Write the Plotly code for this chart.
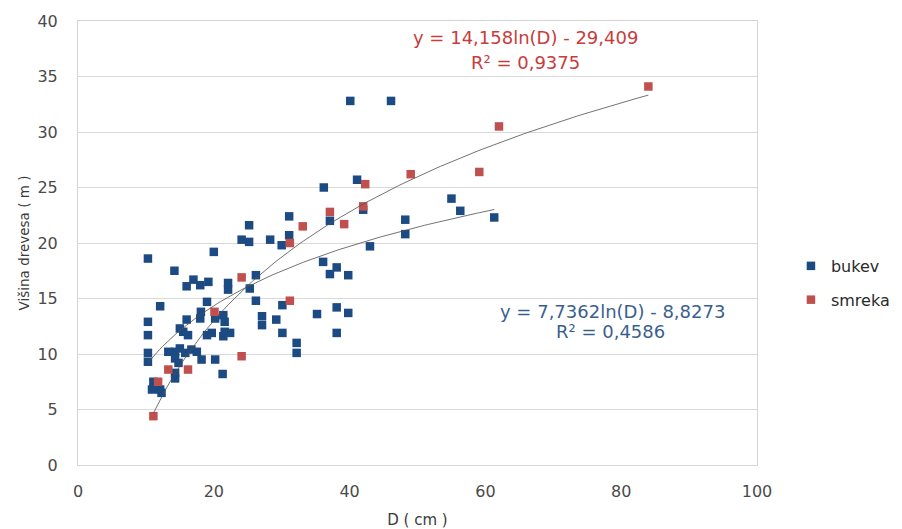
import numpy as np
import plotly.graph_objects as go

# Tree diameter D (cm) and height (m) for beech (bukev)
bukev_d = [10.3, 20.0, 14.2, 16.0, 17.0, 18.0, 19.2, 22.1, 22.1, 12.1, 19.0, 18.1,
           18.0, 16.0, 10.3, 20.2, 21.4, 21.6, 15.0, 10.3, 15.5, 16.2, 19.0, 19.7,
           21.4, 21.6, 10.3, 10.3, 13.3, 14.3, 15.0, 15.8, 16.7, 17.5, 14.3, 14.8,
           18.2, 20.2, 14.3, 14.3, 21.3, 11.1, 10.9, 12.1, 12.3,
           36.2, 37.1, 31.1, 25.2, 24.1, 25.2, 28.3, 30.0, 31.1, 36.1, 38.1, 37.1,
           39.8, 26.2, 25.3, 26.2, 30.1, 27.1, 27.1, 29.2, 30.1, 35.2, 38.1, 39.8,
           38.1, 32.2, 32.2, 22.4,
           40.1, 46.1, 41.1, 42.0, 55.0, 48.2, 48.2, 43.0, 56.3, 61.3]
bukev_h = [18.6, 19.2, 17.5, 16.1, 16.7, 16.2, 16.5, 16.4, 15.8, 14.3, 14.7, 13.8,
           13.2, 13.1, 12.9, 13.2, 13.5, 12.9, 12.3, 11.7, 12.0, 11.7, 11.7, 11.9,
           11.6, 12.0, 10.1, 9.3, 10.2, 10.2, 10.5, 10.1, 10.4, 10.2, 9.6, 9.2,
           9.5, 9.5, 8.3, 7.8, 8.2, 7.5, 6.8, 6.8, 6.5,
           25.0, 22.0, 22.4, 21.6, 20.3, 20.1, 20.3, 19.8, 20.7, 18.3, 17.8, 17.2,
           17.1, 17.1, 15.9, 14.8, 14.4, 13.4, 12.6, 13.1, 11.9, 13.6, 14.2, 13.7,
           11.9, 11.0, 10.1, 11.9,
           32.8, 32.8, 25.7, 23.0, 24.0, 22.1, 20.8, 19.7, 22.9, 22.3]

# Spruce (smreka)
smreka_d = [11.1, 11.8, 13.3, 16.2, 20.1, 24.1, 24.1, 31.2, 31.2, 33.1, 37.1, 39.2,
            42.3, 42.0, 49.0, 59.1, 62.0, 84.0]
smreka_h = [4.4, 7.5, 8.6, 8.6, 13.8, 16.9, 9.8, 14.8, 20.0, 21.5, 22.8, 21.7,
            25.3, 23.3, 26.2, 26.4, 30.5, 34.1]

# Logarithmic trend coefficients: y = a*ln(D) + b
bukev_a, bukev_b, bukev_r2 = 7.7362, -8.8273, 0.4586
smreka_a, smreka_b, smreka_r2 = 14.158, -29.409, 0.9375

x_ticks = [0, 20, 40, 60, 80, 100]
y_ticks = [0, 5, 10, 15, 20, 25, 30, 35, 40]

BLUE = "#1c4a83"
RED = "#c0504d"
FONT = "DejaVu Sans"


def fmt(v, nd):
    return f"{v:.{nd}f}".replace(".", ",")


def trend(a, b, d):
    xs = np.linspace(min(d), max(d), 120)
    return xs, a * np.log(xs) + b


fig = go.Figure()
fig.add_trace(go.Scatter(x=bukev_d, y=bukev_h, mode="markers", name="bukev",
                         legendgroup="b",
                         marker=dict(symbol="square", size=8.5, color=BLUE)))
fig.add_trace(go.Scatter(x=smreka_d, y=smreka_h, mode="markers", name="smreka",
                         legendgroup="s",
                         marker=dict(symbol="square", size=8.5, color=RED)))

for a, b, d in [(smreka_a, smreka_b, smreka_d), (bukev_a, bukev_b, bukev_d)]:
    tx, ty = trend(a, b, d)
    fig.add_trace(go.Scatter(x=tx, y=ty, mode="lines", showlegend=False,
                             hoverinfo="skip",
                             line=dict(color="rgba(80,80,80,0.8)", width=1)))

ann_font_r = dict(family=FONT, size=18, color="#c83c3c")
ann_font_b = dict(family=FONT, size=18, color="#3a5f8f")
fig.add_annotation(x=65.9, y=38.5, xref="x", yref="y", showarrow=False,
                   text=f"y = {fmt(smreka_a, 3)}ln(D) - {fmt(-smreka_b, 3)}", font=ann_font_r)
fig.add_annotation(x=65.9, y=36.3, xref="x", yref="y", showarrow=False,
                   text=f"R² = {fmt(smreka_r2, 4)}", font=ann_font_r)
fig.add_annotation(x=78.7, y=13.8, xref="x", yref="y", showarrow=False,
                   text=f"y = {fmt(bukev_a, 4)}ln(D) - {fmt(-bukev_b, 4)}", font=ann_font_b)
fig.add_annotation(x=78.4, y=12.0, xref="x", yref="y", showarrow=False,
                   text=f"R² = {fmt(bukev_r2, 4)}", font=ann_font_b)

axis_common = dict(showline=True, linecolor="#d4d4d4", linewidth=1, mirror=True,
                   zeroline=False, ticks="", automargin=False,
                   tickfont=dict(family=FONT, size=16, color="#4a4a4a"))

fig.update_xaxes(range=[0, 100], tickvals=x_ticks, showgrid=False,
                 ticklabelstandoff=12,
                 title=dict(text="D ( cm )", standoff=15,
                            font=dict(family=FONT, size=15, color="#3a3a3a")),
                 **axis_common)
fig.update_yaxes(range=[0, 40], tickvals=y_ticks, showgrid=True,
                 gridcolor="#d9d9d9", gridwidth=1, ticklabelstandoff=16,
                 title=dict(text="Višina drevesa ( m )", standoff=4,
                            font=dict(family=FONT, size=13.5, color="#3a3a3a")),
                 **axis_common)

fig.update_layout(
    width=902, height=529,
    margin=dict(l=78, r=145, t=21, b=64, autoexpand=False),
    paper_bgcolor="white", plot_bgcolor="white",
    legend=dict(x=1.05, y=0.41, xanchor="left", yanchor="middle",
                font=dict(family=FONT, size=16, color="#2a2a2a"),
                tracegroupgap=10, itemwidth=30,
                bgcolor="rgba(0,0,0,0)"),
    showlegend=True,
)

fig.write_html("out.html")
